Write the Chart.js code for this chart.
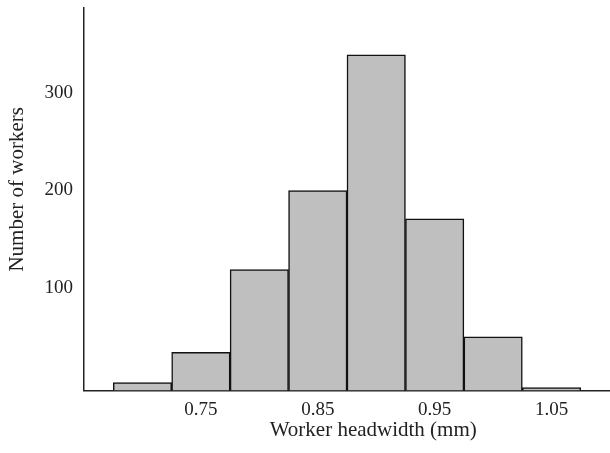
<!DOCTYPE html>
<html>
<head>
<meta charset="utf-8">
<script src="https://cdn.jsdelivr.net/npm/chart.js@4/dist/chart.umd.min.js"></script>
<style>
  html, body { margin: 0; padding: 0; background: #fff; }
  #wrap { width: 610px; height: 453px; }
</style>
</head>
<body>
<div id="wrap"><canvas id="hist"></canvas></div>
<script>
// Histogram bins (centre of each 0.05 mm bin) and worker counts
const binCenters = [0.70, 0.75, 0.80, 0.85, 0.90, 0.95, 1.00, 1.05];
const counts = [8, 39, 124, 205, 344, 176, 55, 3];
const xTicks = [0.75, 0.85, 0.95, 1.05];
const yTicks = [100, 200, 300];
const xTitle = 'Worker headwidth (mm)';
const yTitle = 'Number of workers';

const serif = '"Liberation Serif", "DejaVu Serif", serif';
const ink = '#222';

// axis titles are centred on the tick label span, like the original
const axisTitlePlugin = {
  id: 'axisTitles',
  afterDraw(chart) {
    const xs = chart.scales.x;
    const ys = chart.scales.y;
    const ctx = chart.ctx;
    const midX = (xs.getPixelForValue(xTicks[0]) + xs.getPixelForValue(xTicks[xTicks.length - 1])) / 2;
    const midY = (ys.getPixelForValue(yTicks[0]) + ys.getPixelForValue(yTicks[yTicks.length - 1])) / 2;
    ctx.save();
    ctx.font = '21px ' + serif;
    ctx.fillStyle = ink;
    ctx.textAlign = 'center';
    ctx.textBaseline = 'middle';
    ctx.fillText(xTitle, midX - 3, 430);
    ctx.translate(17, midY - 6);
    ctx.rotate(-Math.PI / 2);
    ctx.fillText(yTitle, 0, 0);
    ctx.restore();
  }
};

// no extra room for half tick labels at the axis ends
function noPad(scale) {
  scale.paddingTop = 0;
  scale.paddingBottom = 0;
  scale.paddingLeft = 0;
  scale.paddingRight = 0;
}

const ctx = document.getElementById('hist').getContext('2d');
new Chart(ctx, {
  type: 'bar',
  data: {
    datasets: [{
      data: binCenters.map((x, i) => ({ x: x, y: counts[i] })),
      backgroundColor: '#bfbfbf',
      borderColor: '#111',
      borderWidth: 1.5,
      barPercentage: 1,
      categoryPercentage: 1
    }]
  },
  options: {
    responsive: true,
    maintainAspectRatio: false,
    animation: false,
    layout: { padding: { top: 8, left: 0, right: 0, bottom: 0 } },
    plugins: {
      legend: { display: false },
      tooltip: { enabled: false }
    },
    scales: {
      x: {
        type: 'linear',
        offset: false,
        min: 0.65,
        max: 1.10,
        grid: { display: false, drawTicks: false },
        border: { display: true, color: ink, width: 1.5 },
        afterBuildTicks: scale => { scale.ticks = xTicks.map(v => ({ value: v })); },
        afterFit: scale => { scale.height = 62.5; noPad(scale); },
        ticks: {
          padding: 8,
          color: ink,
          font: { family: serif, size: 19 },
          maxRotation: 0,
          callback: v => v.toFixed(2)
        }
      },
      y: {
        min: 0,
        max: 392,
        grid: { display: false, drawTicks: false },
        border: { display: true, color: ink, width: 1.5 },
        afterBuildTicks: scale => { scale.ticks = yTicks.map(v => ({ value: v })); },
        afterFit: scale => { scale.width = 84; noPad(scale); },
        ticks: {
          padding: 11,
          labelOffset: -5,
          color: ink,
          font: { family: serif, size: 19 }
        }
      }
    }
  },
  plugins: [axisTitlePlugin]
});
</script>
</body>
</html>
